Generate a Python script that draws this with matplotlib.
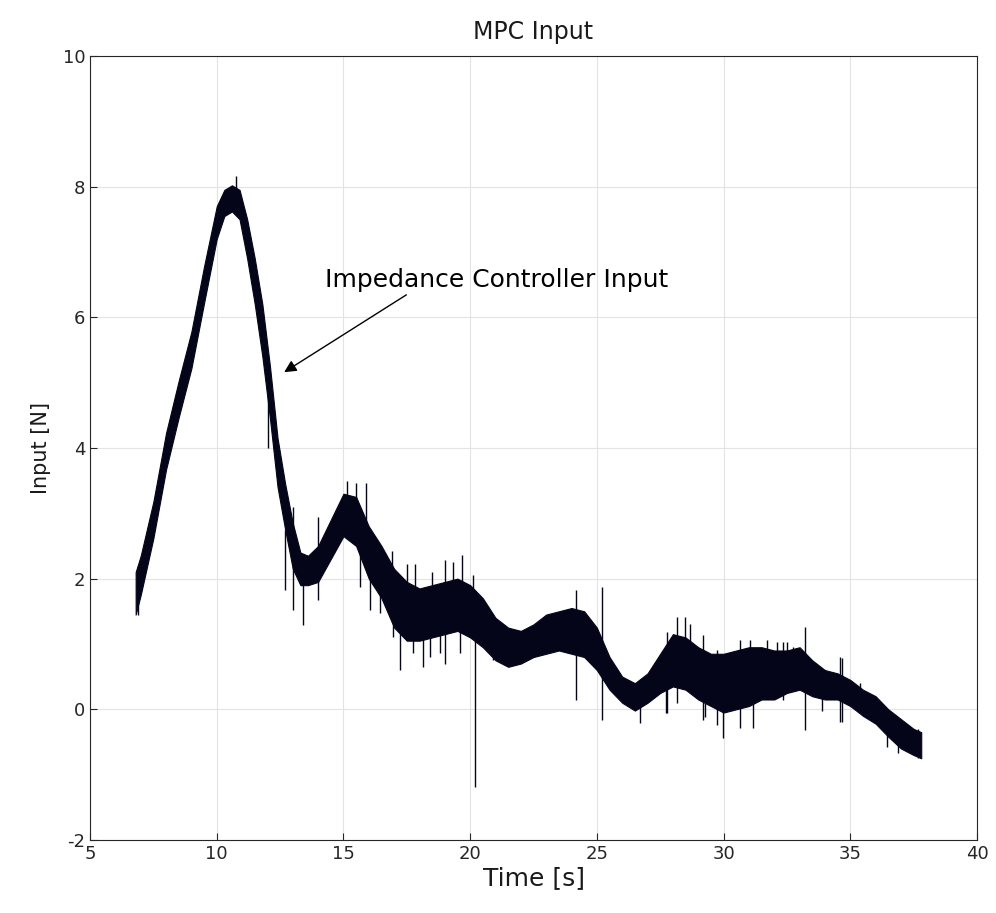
import numpy as np
import matplotlib.pyplot as plt

plt.rcParams['axes.unicode_minus'] = False

# envelope of the noisy input trace (time, lower edge, upper edge)
t_env = [6.8, 7.0, 7.5, 8.0, 8.5, 9.0, 9.5, 10.0, 10.3, 10.6, 10.9, 11.2, 11.5, 11.8,
         12.1, 12.4, 12.7, 13.0, 13.3, 13.6, 14.0, 14.5, 15.0, 15.5, 16.0, 16.5, 17.0,
         17.5, 18.0, 18.5, 19.0, 19.5, 20.0, 20.5, 21.0, 21.5, 22.0, 22.5, 23.0, 23.5,
         24.0, 24.5, 25.0, 25.5, 26.0, 26.5, 27.0, 27.5, 28.0, 28.5, 29.0, 29.5, 30.0,
         30.5, 31.0, 31.5, 32.0, 32.5, 33.0, 33.5, 34.0, 34.5, 35.0, 35.5, 36.0, 36.5,
         37.0, 37.5, 37.8]
lo_env = [1.45, 1.75, 2.62, 3.67, 4.47, 5.22, 6.22, 7.2, 7.55, 7.62, 7.5, 6.9, 6.2, 5.4,
          4.45, 3.4, 2.75, 2.15, 1.9, 1.9, 1.95, 2.3, 2.65, 2.5, 2.0, 1.7, 1.25,
          1.05, 1.05, 1.1, 1.15, 1.2, 1.1, 0.95, 0.75, 0.65, 0.7, 0.8, 0.85, 0.9,
          0.85, 0.8, 0.6, 0.3, 0.1, -0.02, 0.1, 0.25, 0.35, 0.3, 0.15, 0.05, -0.05,
          0.0, 0.05, 0.15, 0.15, 0.25, 0.3, 0.2, 0.15, 0.15, 0.05, -0.1, -0.22, -0.42,
          -0.6, -0.7, -0.75]
hi_env = [2.1, 2.35, 3.18, 4.23, 5.03, 5.78, 6.78, 7.7, 7.95, 8.02, 7.95, 7.5, 6.9, 6.2,
          5.25, 4.15, 3.45, 2.85, 2.4, 2.35, 2.5, 2.9, 3.3, 3.25, 2.8, 2.5, 2.15,
          1.95, 1.85, 1.9, 1.95, 2.0, 1.9, 1.7, 1.4, 1.25, 1.2, 1.3, 1.45, 1.5,
          1.55, 1.5, 1.25, 0.8, 0.5, 0.4, 0.55, 0.85, 1.15, 1.1, 0.95, 0.85, 0.85,
          0.9, 0.95, 0.95, 0.9, 0.9, 0.95, 0.75, 0.6, 0.55, 0.45, 0.3, 0.2, 0.0,
          -0.15, -0.3, -0.35]

# isolated spikes sticking out of the band (time, bottom, top)
spike_t = [6.9, 10.75, 12.02, 12.7, 13.0, 13.4, 14.0, 15.14, 15.5, 15.65, 15.9, 16.05,
           16.44, 16.92, 16.96, 17.23, 17.51, 17.75, 17.83, 18.14, 18.42, 18.5, 18.8,
           19.01, 19.33, 19.6, 19.68, 20.11, 20.19, 20.9, 24.18, 25.2, 26.7, 27.73,
           27.77, 28.16, 28.48, 28.68, 29.19, 29.27, 29.74, 29.98, 30.65, 31.05, 31.16,
           31.72, 32.11, 32.35, 32.5, 32.75, 33.2, 33.9, 34.0, 34.6, 34.68, 35.4, 36.45,
           36.9, 37.67]
spike_lo = [1.45, 7.6, 4.0, 1.82, 1.52, 1.29, 1.67, 2.8, 2.8, 1.87, 2.8, 1.52,
            1.47, 1.9, 1.1, 0.6, 1.5, 0.86, 1.5, 0.64, 0.8, 1.5, 0.86,
            0.7, 1.5, 0.86, 1.2, 1.4, -1.19, 0.75, 0.14, -0.17, -0.21, -0.06,
            -0.06, 0.1, 0.5, 0.5, -0.17, -0.12, -0.24, -0.44, -0.29, 0.3, -0.29,
            0.3, 0.3, 0.14, 0.3, 0.3, -0.32, -0.02, 0.3, -0.2, -0.2, -0.02, -0.58,
            -0.67, -0.75]
spike_hi = [2.2, 8.17, 5.3, 2.74, 3.09, 2.02, 2.94, 3.5, 3.46, 2.63, 3.46, 2.28,
            2.2, 2.43, 1.8, 1.6, 2.23, 1.6, 2.23, 1.5, 1.5, 2.1, 1.9,
            2.28, 2.25, 1.6, 2.36, 2.05, 1.6, 1.4, 1.82, 1.87, 0.3, 0.6,
            1.18, 1.41, 1.41, 1.31, 1.13, 0.6, 0.9, 0.7, 1.06, 1.06, 0.6,
            1.06, 1.03, 1.03, 1.03, 0.95, 1.26, 0.5, 0.6, 0.8, 0.78, 0.4, -0.2,
            -0.3, -0.3]

line_col = '#05051a'

fig = plt.figure(figsize=(9.96, 9.13), dpi=100)
ax = fig.add_axes([0.0904, 0.080, 0.8905, 0.8587])

ax.fill_between(t_env, lo_env, hi_env, color=line_col, linewidth=0.8, edgecolor=line_col)
ax.vlines(spike_t, spike_lo, spike_hi, color=line_col, linewidth=1.0)

ax.set_xlim(5, 40)
ax.set_ylim(-2, 10)
ax.set_xticks(np.arange(5, 41, 5))
ax.set_yticks(np.arange(-2, 11, 2))
ax.grid(True, color='#e3e3e3', linewidth=0.8)
ax.set_axisbelow(True)
ax.tick_params(direction='in', labelsize=13, colors='#262626', length=5)
for s in ax.spines.values():
    s.set_color('#262626')
    s.set_linewidth(0.8)

ax.set_title('MPC Input', fontsize=17, color='#1a1a1a', pad=12)
ax.set_xlabel('Time [s]', fontsize=18, color='#1a1a1a', labelpad=2)
ax.set_ylabel('Input [N]', fontsize=15, color='#1a1a1a', labelpad=8)

ax.annotate('Impedance Controller Input', xy=(12.66, 5.16), xytext=(14.27, 6.57),
            fontsize=18, va='center', ha='left',
            arrowprops=dict(arrowstyle='-|>', color='black', lw=1.0,
                            shrinkA=0, shrinkB=0, mutation_scale=18,
                            relpos=(0.25, 0.0)))

fig.savefig('out.png', dpi=100)
